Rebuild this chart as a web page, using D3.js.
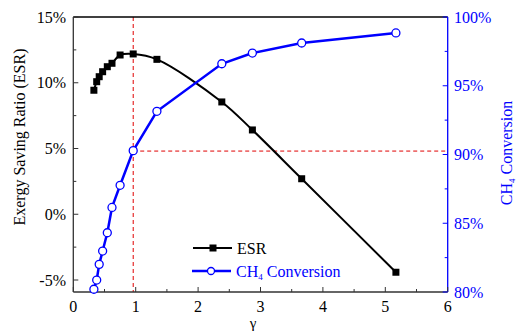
<!DOCTYPE html>
<html><head><meta charset="utf-8">
<script src="https://cdn.jsdelivr.net/npm/d3@7"></script>
<style>body{margin:0;background:#fff}svg{display:block}text{font-family:"Liberation Serif","Times New Roman",serif}</style>
</head><body>
<script>
const gamma = [0.33,0.375,0.415,0.47,0.545,0.62,0.75,0.96,1.34,2.38,2.87,3.66,5.17];
const esr = [9.43,10.08,10.46,10.84,11.22,11.48,12.11,12.19,11.78,8.54,6.41,2.70,-4.41];
const ch4 = [80.2,80.87,82.01,82.98,84.31,86.15,87.76,90.28,93.14,96.6,97.38,98.11,98.84];
const xTicks = [0,1,2,3,4,5,6];
const leftTicks = [-5,0,5,10,15];
const rightTicks = [80,85,90,95,100];
const refGamma = 0.96, refConv = 90.25;

(function(){
const W=519,H=332;
const svg=d3.select("body").append("svg").attr("width",W).attr("height",H);
const x=d3.scaleLinear().domain([0,6]).range([73.3,447.7]);
const yL=d3.scaleLinear().domain([-5,15]).range([280,17]);
const yR=d3.scaleLinear().domain([80,100]).range([292,17]);
const yTop=17,yBot=292;
const fs=16;

// reference dashed lines
svg.append("line").attr("x1",x(refGamma)).attr("x2",x(refGamma)).attr("y1",yTop).attr("y2",yBot)
  .attr("stroke","#e00000").attr("stroke-dasharray","4,3").attr("stroke-width",1);
svg.append("line").attr("x1",x(refGamma)).attr("x2",x(6)).attr("y1",yR(refConv)).attr("y2",yR(refConv))
  .attr("stroke","#e00000").attr("stroke-dasharray","4,3").attr("stroke-width",1);

// frame
svg.append("line").attr("x1",x(0)).attr("x2",x(6)).attr("y1",yTop).attr("y2",yTop).attr("stroke","#000").attr("stroke-width",1.3);
svg.append("line").attr("x1",x(0)).attr("x2",x(6)).attr("y1",yBot).attr("y2",yBot).attr("stroke","#333").attr("stroke-width",1.3);
svg.append("line").attr("x1",x(0)).attr("x2",x(0)).attr("y1",yTop).attr("y2",yBot).attr("stroke","#333").attr("stroke-width",1.3);
svg.append("line").attr("x1",x(6)).attr("x2",x(6)).attr("y1",yTop).attr("y2",yBot).attr("stroke","#0000ff").attr("stroke-width",1.3);

// bottom ticks
d3.range(0,6.01,0.5).forEach(v=>{
  const maj=Math.abs(v-Math.round(v))<1e-6;
  svg.append("line").attr("x1",x(v)).attr("x2",x(v)).attr("y1",yBot).attr("y2",yBot-(maj?5:3)).attr("stroke","#333").attr("stroke-width",1);
});
xTicks.forEach(v=>svg.append("text").attr("x",x(v)).attr("y",312).attr("text-anchor","middle").attr("font-size",fs).attr("fill","#000").text(v));
// left ticks
d3.range(-5,15.01,2.5).forEach(v=>{
  const maj=v%5===0;
  svg.append("line").attr("x1",x(0)).attr("x2",x(0)+(maj?5:3)).attr("y1",yL(v)).attr("y2",yL(v)).attr("stroke","#333").attr("stroke-width",1);
});
leftTicks.forEach(v=>svg.append("text").attr("x",66).attr("y",yL(v)+5.5).attr("text-anchor","end").attr("font-size",fs).attr("fill","#000").text(v+"%"));
// right ticks
d3.range(80,100.01,2.5).forEach(v=>{
  const maj=v%5===0;
  svg.append("line").attr("x1",x(6)).attr("x2",x(6)-(maj?5:3)).attr("y1",yR(v)).attr("y2",yR(v)).attr("stroke","#0000ff").attr("stroke-width",1);
});
rightTicks.forEach(v=>svg.append("text").attr("x",454).attr("y",yR(v)+5.5).attr("text-anchor","start").attr("font-size",fs).attr("fill","#0000ff").text(v+"%"));

// axis titles
svg.append("text").attr("transform","translate(25,137) rotate(-90)").attr("text-anchor","middle").attr("font-size",fs).attr("fill","#000").text("Exergy Saving Ratio (ESR)");
const rt=svg.append("text").attr("transform","translate(512,153) rotate(-90)").attr("text-anchor","middle").attr("font-size",fs).attr("fill","#0000ff");
rt.append("tspan").text("CH");
rt.append("tspan").attr("font-size",9).attr("dy",3).text("4");
rt.append("tspan").attr("dy",-3).text(" Conversion");
svg.append("text").attr("x",253).attr("y",328).attr("text-anchor","middle").attr("font-size",15).attr("fill","#000").text("γ");

const data=gamma.map((g,i)=>({g,e:esr[i],c:ch4[i]}));
// ESR line
svg.append("path").datum(data).attr("fill","none").attr("stroke","#000").attr("stroke-width",2)
  .attr("d",d3.line().x(d=>x(d.g)).y(d=>yL(d.e)).curve(d3.curveCatmullRom.alpha(0.5)));
svg.selectAll(".sq").data(data).enter().append("rect").attr("x",d=>x(d.g)-3.5).attr("y",d=>yL(d.e)-3.5).attr("width",7).attr("height",7).attr("fill","#000");
// CH4 line
svg.append("path").datum(data).attr("fill","none").attr("stroke","#0000ff").attr("stroke-width",2.5)
  .attr("d",d3.line().x(d=>x(d.g)).y(d=>yR(d.c)));
svg.selectAll(".ci").data(data).enter().append("circle").attr("cx",d=>x(d.g)).attr("cy",d=>yR(d.c)).attr("r",4).attr("fill","#fff").attr("stroke","#0000ff").attr("stroke-width",1.3);

// legend
const lg=svg.append("g");
lg.append("line").attr("x1",193).attr("x2",232).attr("y1",248).attr("y2",248).attr("stroke","#000").attr("stroke-width",2);
lg.append("rect").attr("x",213-3.5).attr("y",248-3.5).attr("width",7).attr("height",7).attr("fill","#000");
lg.append("text").attr("x",237).attr("y",254).attr("font-size",fs).attr("fill","#000").text("ESR");
lg.append("line").attr("x1",192).attr("x2",231).attr("y1",271).attr("y2",271).attr("stroke","#0000ff").attr("stroke-width",2.5);
lg.append("circle").attr("cx",211).attr("cy",271).attr("r",3.5).attr("fill","#fff").attr("stroke","#0000ff").attr("stroke-width",1.3);
const lt=lg.append("text").attr("x",236).attr("y",277).attr("font-size",fs).attr("fill","#0000ff");
lt.append("tspan").text("CH");
lt.append("tspan").attr("font-size",9).attr("dy",3).text("4");
lt.append("tspan").attr("dy",-3).text(" Conversion");
})();
</script>
</body></html>
